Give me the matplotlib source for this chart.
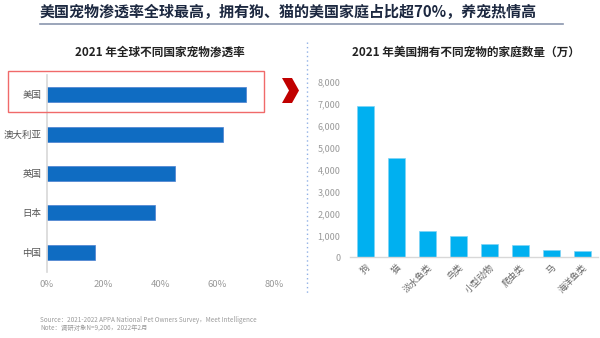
import matplotlib
matplotlib.use("Agg")
import matplotlib.pyplot as plt
from matplotlib.patches import Rectangle, Polygon
from matplotlib.lines import Line2D
from matplotlib.ticker import FuncFormatter

plt.rcParams['font.family'] = ['Noto Sans CJK SC', 'DejaVu Sans']

# left chart: pet penetration by country (%)
countries = ["美国", "澳大利亚", "英国", "日本", "中国"]
penetration = [70, 62, 45, 38, 17]
pct_ticks = [0, 20, 40, 60, 80]

# right chart: US households owning each pet (10k)
pets = ["狗", "猫", "淡水鱼类", "鸟类", "小型动物", "爬虫类", "马", "海洋鱼类"]
households = [6900, 4530, 1180, 990, 620, 570, 350, 290]
count_ticks = [0, 1000, 2000, 3000, 4000, 5000, 6000, 7000, 8000]

W, H = 600, 338
fig = plt.figure(figsize=(6, 3.38), dpi=100)

def fx(px):
    return px / W

def fy(py):
    return 1 - py / H

# header
fig.text(fx(40), fy(12), "美国宠物渗透率全球最高，拥有狗、猫的美国家庭占比超70%，养宠热情高",
         fontsize=10.8, fontweight='bold', color='#1c2840', va='center', ha='left')
fig.add_artist(Line2D([fx(40), fx(563)], [fy(24), fy(24)], color='#8a96ae', lw=1.2))

fig.text(fx(160), fy(52), "2021 年全球不同国家宠物渗透率", fontsize=8.4, fontweight='bold',
         color='#222222', ha='center', va='center')
fig.text(fx(466), fy(52), "2021 年美国拥有不同宠物的家庭数量（万）", fontsize=8.4, fontweight='bold',
         color='#222222', ha='center', va='center')

# dotted separator
fig.add_artist(Line2D([fx(307), fx(307)], [fy(42), fy(293)], color='#8fb0e6',
                      lw=1.0, linestyle=(0, (1, 2.2))))

# left chart
ax1 = fig.add_axes([fx(47), fy(272), fx(274) - fx(47), fy(75) - fy(272)])
y = list(range(len(countries)))[::-1]
ax1.barh(y, penetration, height=0.38, color='#0f6cc2', edgecolor='#4a7fd0', linewidth=0.5)
ax1.set_xlim(0, 80)
ax1.set_ylim(-0.5, 4.5)
ax1.set_yticks(y)
ax1.set_yticklabels(countries, fontsize=6.8, color='#555555')
ax1.set_xticks(pct_ticks)
ax1.xaxis.set_major_formatter(FuncFormatter(lambda v, p: f"{v:.0f}%"))
ax1.tick_params(axis='both', length=0)
ax1.tick_params(axis='x', labelsize=6.8, labelcolor='#999999', pad=6)
ax1.tick_params(axis='y', pad=4)
for s in ['top', 'right', 'bottom']:
    ax1.spines[s].set_visible(False)
ax1.spines['left'].set_color('#d8d8d8')
ax1.spines['left'].set_linewidth(1.2)

# highlight box and chevron
fig.add_artist(Rectangle((fx(8), fy(112)), fx(264) - fx(8), fy(71) - fy(112),
                         fill=False, edgecolor='#f06a6a', lw=1.0))
chev = [(282, 78), (292, 78), (299, 90.5), (292, 103), (282, 103), (289, 90.5)]
fig.add_artist(Polygon([(fx(a), fy(b)) for a, b in chev], closed=True,
                       facecolor='#c00000', edgecolor='none'))

# right chart
ax2 = fig.add_axes([fx(350), fy(257.3), fx(598) - fx(350), fy(82) - fy(257.3)])
x = list(range(len(pets)))
ax2.bar(x, households, width=0.55, color='#00b0f0', edgecolor='#7fd3f5', linewidth=0.5)
ax2.set_xlim(-0.5, 7.5)
ax2.set_ylim(0, 8000)
ax2.set_yticks(count_ticks)
ax2.yaxis.set_major_formatter(FuncFormatter(lambda v, p: f"{v:,.0f}"))
ax2.set_xticks(x)
ax2.set_xticklabels(pets, rotation=45, ha='right', rotation_mode='anchor', fontsize=6.5,
                    color='#666666')
ax2.tick_params(axis='both', length=0)
ax2.tick_params(axis='y', labelsize=6.5, labelcolor='#999999', pad=7)
ax2.tick_params(axis='x', pad=4)
for s in ['top', 'right', 'left']:
    ax2.spines[s].set_visible(False)
ax2.spines['bottom'].set_color('#d8d8d8')
ax2.spines['bottom'].set_linewidth(1.0)

# footer
fig.text(fx(40), fy(320), "Source：2021-2022 APPA National Pet Owners Survey，Meet Intelligence",
         fontsize=4.6, color='#9a9a9a', va='center', ha='left')
fig.text(fx(40), fy(327.5), "Note：调研对象N=9,206，2022年2月",
         fontsize=4.6, color='#9a9a9a', va='center', ha='left')

fig.savefig("out.png", dpi=100)
